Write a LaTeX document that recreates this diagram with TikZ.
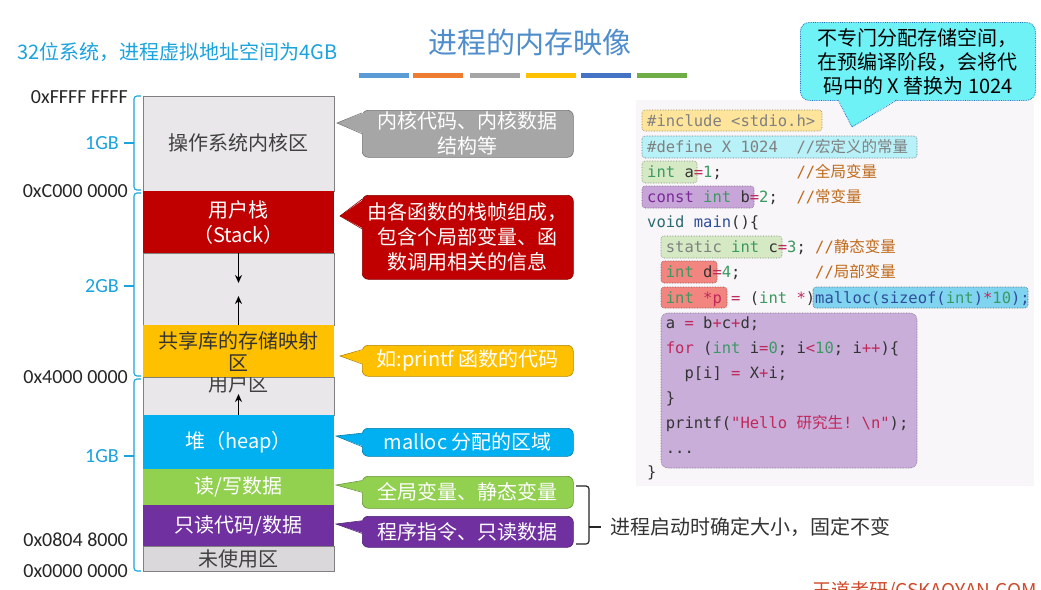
\documentclass[tikz,border=0pt]{standalone}
\usepackage{fontspec}
\setmainfont{Noto Sans CJK SC}
\setmonofont{DejaVu Sans Mono}
\newfontfamily\cjk{Noto Sans CJK SC}
\newfontfamily\lat{Carlito}
\usetikzlibrary{calc,arrows.meta}
\definecolor{titleblue}{HTML}{4F8DCB}
\definecolor{subcyan}{HTML}{1AA3DD}
\definecolor{bA}{HTML}{5B9BD5}
\definecolor{bB}{HTML}{ED7D31}
\definecolor{bC}{HTML}{A5A5A5}
\definecolor{bD}{HTML}{FFC000}
\definecolor{bE}{HTML}{4472C4}
\definecolor{bF}{HTML}{70AD47}
\definecolor{kgray}{HTML}{E9E7E9}
\definecolor{ugray}{HTML}{DAD8DA}
\definecolor{cgrayfill}{HTML}{A6A6A6}
\definecolor{mred}{HTML}{C00000}
\definecolor{myellow}{HTML}{FFC000}
\definecolor{mcyan}{HTML}{00B0F0}
\definecolor{mgreen}{HTML}{92D050}
\definecolor{mpurple}{HTML}{7030A0}
\definecolor{topcyan}{HTML}{6FF2F6}
\definecolor{panel}{HTML}{F8F6F8}
\definecolor{hlinc}{HTML}{FEE59B}
\definecolor{hldef}{HTML}{B8F1F8}
\definecolor{hlgrn}{HTML}{D5EAC4}
\definecolor{hlpur}{HTML}{C8A5D8}
\definecolor{hlred}{HTML}{F2857F}
\definecolor{hlmal}{HTML}{80D4F0}
\definecolor{hlbig}{HTML}{C9AEDA}
\definecolor{ckw}{HTML}{3A9A62}
\definecolor{cop}{HTML}{C0285A}
\definecolor{ccm}{HTML}{C06A1A}
\definecolor{cgr}{HTML}{808080}
\definecolor{cpu}{HTML}{7A2A98}
\definecolor{cfn}{HTML}{2F4E9A}
\definecolor{cvd}{HTML}{2A6A70}
\definecolor{cdk}{HTML}{333333}
\definecolor{wmred}{HTML}{D04A2A}
\tikzset{
 region/.style={anchor=north west, minimum width=191pt, inner sep=0pt, outer sep=0pt},
 graybox/.style={region, fill=kgray, draw=black!50, line width=0.6pt},
 coltext/.style={font=\fontsize{20}{24}\selectfont, inner sep=0pt},
 hexlab/.style={anchor=east, font=\lat\fontsize{20}{24}\selectfont, text=black!85, inner sep=0pt},
 gblab/.style={anchor=east, font=\lat\fontsize{20}{24}\selectfont, text=subcyan, inner sep=0pt},
 cbrace/.style={draw=subcyan, line width=1.1pt, rounded corners=3pt},
 arr/.style={-{Stealth[length=8pt,width=7pt]}, line width=1.6pt, black},
 callbox/.style={rounded corners=6pt, minimum width=211pt, inner sep=1pt, text=white, font=\fontsize{20}{25}\selectfont, align=center, line width=0.6pt},
 hl/.style={rounded corners=3pt, densely dotted, line width=0.6pt},
 code/.style={anchor=base west, inner sep=0pt, font=\ttfamily\fontsize{15.5}{18}\selectfont, text=cdk},
}
\newcommand\mycallout[8]{%
 \node[callbox, fill=#2, draw=#2!70!black, minimum height=#4pt, anchor=north west] (#1) at (362,#3) {#8};
 \fill[#2] (#5) -- ($(#1.north west)!#6!(#1.south west)+(2pt,0)$) -- ($(#1.north west)!#7!(#1.south west)+(2pt,0)$) -- cycle;
 \draw[#2!70!black, line width=0.6pt] ($(#1.north west)!#6!(#1.south west)$) -- (#5) -- ($(#1.north west)!#7!(#1.south west)$);
}
\begin{document}
\begin{tikzpicture}[x=1pt,y=-1pt]
\useasboundingbox (0,0) rectangle (1041,589);
\clip (0,0) rectangle (1041,589);
\fill[white] (0,0) rectangle (1041,589);

% title and bars
\node[font=\fontsize{29}{33}\selectfont, text=titleblue] (title) at (530,42) {进程的内存映像};
\foreach \bx/\bc in {359/bA,413/bB,470/bC,526/bD,581/bE,637/bF}
  \fill[\bc] (\bx,73) rectangle ++(50,5);
\node[anchor=west, font=\fontsize{20}{24}\selectfont, text=subcyan, inner sep=0pt] (sub) at (17,52) {32位系统，进程虚拟地址空间为4GB};

% memory column
\node[graybox, minimum height=95pt] (kernel) at (143,96) {};
\node[graybox, minimum height=72pt] (gapA) at (143,253) {};
\node[graybox, minimum height=38pt] (userz) at (143,377) {};
\node[region, fill=ugray, draw=black!50, line width=0.6pt, minimum height=25pt] (unused) at (143,546) {};
\node[coltext, text=black!75] (userlab) at (238.5,384) {用户区};
\node[region, fill=mred, minimum height=62pt] (stack) at (143,191) {};
\node[region, fill=myellow, minimum height=52pt] (shared) at (143,325) {};
\node[region, fill=mcyan, minimum height=54pt] (heap) at (143,415) {};
\node[region, fill=mgreen, minimum height=36pt] (rw) at (143,469) {};
\node[region, fill=mpurple, minimum height=41pt] (ro) at (143,505) {};

\node[coltext, text=black!75] (kerntxt) at (238.5,143) {操作系统内核区};
\node[coltext, text=white] (stk1) at (238.5,210) {用户栈};
\node[coltext, text=white] (stk2) at (238.5,235) {（Stack）};
\node[coltext, text=black!80] (sh1) at (238.5,341) {共享库的存储映射};
\node[coltext, text=black!80] (sh2) at (238.5,363) {区};
\node[coltext, text=white] (heaptxt) at (238.5,442) {堆（heap）};
\node[coltext, text=white] (rwtxt) at (238.5,487) {读/写数据};
\node[coltext, text=white] (rotxt) at (238.5,526) {只读代码/数据};
\node[coltext, text=black!75] (untxt) at (238.5,559) {未使用区};

\coordinate (downend) at (238.5,283);
\coordinate (upend1) at (238.5,296);
\coordinate (upend2) at (238.5,394);
\draw[arr] (stack.south) -- (downend);
\draw[arr] (shared.north) -- (upend1);
\draw[arr] (heap.north) -- (upend2);

% address labels
\node[hexlab] (hFFFF) at (128,97) {0xFFFF FFFF};
\node[hexlab] (hC000) at (128,191) {0xC000 0000};
\node[hexlab] (h4000) at (128,377) {0x4000 0000};
\node[hexlab] (h0804) at (128,540) {0x0804 8000};
\node[hexlab] (h0000) at (128,571) {0x0000 0000};

% cyan braces
\draw[cbrace] (141,96) -- (134,96) -- (134,190) -- (141,190);
\draw[cbrace] (124,143) -- (134,143);
\draw[cbrace] (141,193) -- (134,193) -- (134,376) -- (141,376);
\draw[cbrace] (124,286) -- (134,286);
\draw[cbrace] (141,379) -- (134,379) -- (134,571) -- (141,571);
\draw[cbrace] (124,456) -- (134,456);
\node[gblab] (gb1) at (119,143) {1GB};
\node[gblab] (gb2) at (119,286) {2GB};
\node[gblab] (gb3) at (119,456) {1GB};

% callouts
\mycallout{cgk}{cgrayfill}{110}{47}{337,123}{0.06}{0.5}{内核代码、内核数据\\结构等}
\mycallout{cst}{mred}{195}{84}{340,216}{0.05}{0.4}{由各函数的栈帧组成，\\包含个局部变量、函\\数调用相关的信息}
\mycallout{csh}{myellow}{345}{31}{340,356}{0.15}{0.6}{如:printf 函数的代码}
\mycallout{chp}{mcyan}{428}{28}{336,436}{0.18}{0.65}{malloc 分配的区域}
\mycallout{crw}{mgreen}{476}{32}{336,485}{0.14}{0.5}{全局变量、静态变量}
\mycallout{cro}{mpurple}{516}{31}{336,524}{0.15}{0.55}{程序指令、只读数据}

% right brace
\draw[line width=1.2pt, rounded corners=3pt, black!85] (576,486) -- (589,486) -- (589,544) -- (576,544);
\draw[line width=1.2pt, black!85] (589,527) -- (601,527);
\node[anchor=west, font=\fontsize{20}{24}\selectfont, text=black!80, inner sep=0pt] (fixed) at (610,527) {进程启动时确定大小，固定不变};

% code panel
\fill[panel] (636,100) rectangle (1034,486);
\node[draw=cyan!50!blue, densely dotted, line width=0.8pt, fill=topcyan, rounded corners=9pt, minimum width=235pt, minimum height=78pt, anchor=north west, align=center, font=\fontsize{20}{24}\selectfont, inner sep=0pt] (note) at (800,22) {不专门分配存储空间，\\在预编译阶段，会将代\\码中的 X 替换为 1024};
\fill[topcyan] (852,127) -- (838,99) -- (897,99) -- cycle;
\draw[cyan!50!blue, densely dotted, line width=0.8pt] (838,100) -- (852,127) -- (897,100);

\draw[hl, fill=hlinc, draw=hlinc!60!black] (642,110) rectangle (822,131);
\draw[hl, fill=hldef, draw=hldef!50!black] (642,136) rectangle (917,158);
\draw[hl, fill=hlgrn, draw=hlgrn!60!black] (642,161) rectangle (697,183);
\draw[hl, fill=hlpur, draw=hlpur!60!black] (642,186) rectangle (754,208);
\draw[hl, fill=hlgrn, draw=hlgrn!60!black] (661,236) rectangle (782,258);
\draw[hl, fill=hlred, draw=hlred!60!black] (661,261) rectangle (717,283);
\draw[hl, fill=hlred, draw=hlred!60!black] (661,287) rectangle (727,308);
\draw[hl, fill=hlmal, draw=hlmal!50!black] (813,287) rectangle (1028,308);
\draw[hl, fill=hlbig, draw=hlbig!60!black, rounded corners=7pt] (661,313) rectangle (917,468);

\node[code] (L1) at (647,126) {\textcolor{cgr}{\#include~<stdio.h>}};
\node[code] (L2) at (647,152) {\textcolor{cgr}{\#define~X~1024~~//{\cjk 宏定义的常量}}};
\node[code] (L3) at (647,177) {\textcolor{ckw}{int}~a\textcolor{cop}{=}\textcolor{ckw}{1};~~~~~~~~\textcolor{ccm}{//{\cjk 全局变量}}};
\node[code] (L4) at (647,202) {\textcolor{cpu}{const}~\textcolor{ckw}{int}~b\textcolor{cop}{=}\textcolor{ckw}{2};~~\textcolor{ccm}{//{\cjk 常变量}}};
\node[code] (L5) at (647,227) {\textcolor{cvd}{void}~\textcolor{cfn}{main}()\{};
\node[code] (L6) at (647,252) {~~\textcolor{cgr}{static}~\textcolor{ckw}{int}~c\textcolor{cop}{=}\textcolor{ckw}{3};~\textcolor{ccm}{//{\cjk 静态变量}}};
\node[code] (L7) at (647,277) {~~\textcolor{ckw}{int}~d\textcolor{cop}{=}\textcolor{ckw}{4};~~~~~~~~\textcolor{ccm}{//{\cjk 局部变量}}};
\node[code] (L8) at (647,303) {~~\textcolor{ckw}{int}~\textcolor{cop}{*p}~\textcolor{cop}{=}~(\textcolor{ckw}{int}~\textcolor{cop}{*})\textcolor{cfn}{malloc(sizeof(}\textcolor{ckw}{int}\textcolor{cfn}{)}\textcolor{cop}{*}\textcolor{ckw}{10}\textcolor{cfn}{);}};
\node[code] (L9) at (647,328) {~~a~\textcolor{cop}{=}~b\textcolor{cop}{+}c\textcolor{cop}{+}d;};
\node[code] (L10) at (647,353) {~~\textcolor{cop}{for}~(\textcolor{ckw}{int}~i\textcolor{cop}{=}\textcolor{ckw}{0};~i\textcolor{cop}{<}\textcolor{ckw}{10};~i\textcolor{cop}{++})\{};
\node[code] (L11) at (647,378) {~~~~p[i]~\textcolor{cop}{=}~X\textcolor{cop}{+}i;};
\node[code] (L12) at (647,403) {~~\}};
\node[code] (L13) at (647,428) {~~printf(\textcolor{cop}{"Hello~{\cjk 研究生}!~\textbackslash n"});};
\node[code] (L14) at (647,453) {~~...};
\node[code] (L15) at (647,477) {\}};

% watermark at bottom edge
\node[anchor=north west, font=\fontsize{19}{22}\selectfont, text=wmred, inner sep=0pt] (wm) at (812,581) {王道考研/CSKAOYAN.COM};
\end{tikzpicture}
\end{document}
